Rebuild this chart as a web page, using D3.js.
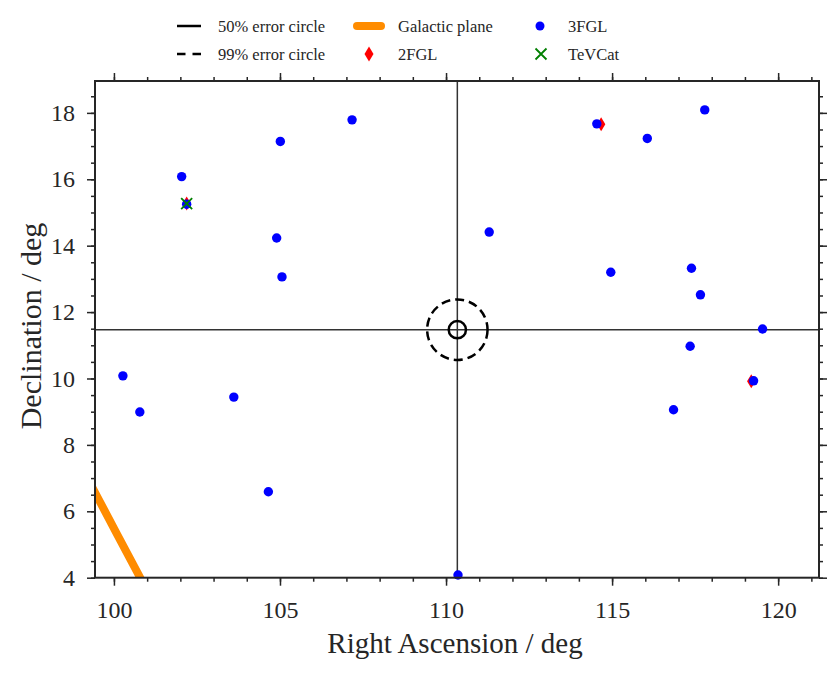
<!DOCTYPE html>
<html>
<head>
<meta charset="utf-8">
<script src="https://cdn.jsdelivr.net/npm/d3@7"></script>
<style>
  html, body { margin: 0; padding: 0; background: #fff; }
  svg { display: block; font-family: "Liberation Serif", "DejaVu Serif", serif; }
</style>
</head>
<body>
<div id="chart"></div>
<script>
// --- data (degrees) ---
const fgl3RA  = [102.04, 102.19, 105.01, 104.90, 105.06, 107.17, 111.30, 114.54, 117.79, 116.06, 114.96,
                 117.39, 117.66, 119.53, 117.35, 119.26, 116.85, 100.27, 100.78, 103.61, 104.65, 110.36];
const fgl3Dec = [16.08, 15.25, 17.14, 14.23, 13.06, 17.79, 14.41, 17.67, 18.09, 17.23, 13.20,
                 13.32, 12.52, 11.49, 10.97, 9.93, 9.06, 10.08, 8.99, 9.44, 6.59, 4.08];

const fgl2RA  = [102.19, 114.67, 119.19];
const fgl2Dec = [15.27, 17.66, 9.92];

const tevRA  = [102.19];
const tevDec = [15.27];

const galRA  = [98.9, 100.1, 101.3];
const galDec = [7.57, 5.30, 3.04];

const srcRA = 110.34;
const srcDec = 11.47;
const errRadii = [0.26, 0.91];       // 50%, 99%

const xTicks = [100, 105, 110, 115, 120];
const yTicks = [4, 6, 8, 10, 12, 14, 16, 18];

// --- layout ---
const width = 831;
const height = 673;
const marginLeft = 95;
const marginRight = 12;
const marginTop = 81;
const marginBottom = 95.3;

const ink = "#262626";

const svg = d3.select("#chart").append("svg")
    .attr("width", width)
    .attr("height", height);

const x = d3.scaleLinear()
    .domain([99.43, 121.23])
    .range([marginLeft, width - marginRight]);

const y = d3.scaleLinear()
    .domain([4.0, 18.96])
    .range([height - marginBottom, marginTop]);

svg.append("clipPath").attr("id", "plot-clip")
    .append("rect")
    .attr("x", x.range()[0])
    .attr("y", y.range()[1])
    .attr("width", x.range()[1] - x.range()[0])
    .attr("height", y.range()[0] - y.range()[1]);

const plot = svg.append("g");
const clipped = plot.append("g").attr("clip-path", "url(#plot-clip)");

// crosshair through the source position
clipped.append("line")
    .attr("x1", x.range()[0]).attr("x2", x.range()[1])
    .attr("y1", y(srcDec)).attr("y2", y(srcDec))
    .attr("stroke", "#333").attr("stroke-width", 1.5);
clipped.append("line")
    .attr("x1", x(srcRA)).attr("x2", x(srcRA))
    .attr("y1", y.range()[0]).attr("y2", y.range()[1])
    .attr("stroke", "#333").attr("stroke-width", 1.5);

// error circles (radius in degrees, equal aspect)
clipped.selectAll("circle.err")
    .data(errRadii)
    .join("circle")
    .attr("class", "err")
    .attr("cx", x(srcRA))
    .attr("cy", y(srcDec))
    .attr("r", d => x(srcRA + d) - x(srcRA))
    .attr("fill", "none")
    .attr("stroke", "#000")
    .attr("stroke-width", 2.5)
    .attr("stroke-dasharray", (d, i) => i === 0 ? null : "9,5");

// galactic plane
clipped.append("path")
    .datum(d3.zip(galRA, galDec))
    .attr("d", d3.line().x(d => x(d[0])).y(d => y(d[1])))
    .attr("fill", "none")
    .attr("stroke", "#ff8c00")
    .attr("stroke-width", 8);

// marker shapes
const diamond = (h) => `M0,${-h}L${h * 0.6},0L0,${h}L${-h * 0.6},0Z`;
const cross = (s) => `M${-s},${-s}L${s},${s}M${-s},${s}L${s},${-s}`;

// 2FGL
plot.append("g").selectAll("path")
    .data(d3.zip(fgl2RA, fgl2Dec))
    .join("path")
    .attr("transform", d => `translate(${x(d[0])},${y(d[1])})`)
    .attr("d", diamond(7))
    .attr("fill", "#ff0000");

// 3FGL
plot.append("g").selectAll("circle")
    .data(d3.zip(fgl3RA, fgl3Dec))
    .join("circle")
    .attr("cx", d => x(d[0]))
    .attr("cy", d => y(d[1]))
    .attr("r", 4.7)
    .attr("fill", "#0000ff");

// TeVCat
plot.append("g").selectAll("path")
    .data(d3.zip(tevRA, tevDec))
    .join("path")
    .attr("transform", d => `translate(${x(d[0])},${y(d[1])})`)
    .attr("d", cross(5.5))
    .attr("fill", "none")
    .attr("stroke", "#007f00")
    .attr("stroke-width", 1.8);

// --- axes: ticks outward on all four sides, labels bottom/left ---
const xMinor = d3.range(100, 122, 1);
const yMinor = d3.range(4, 19, 0.5);

function styleAxis(g) {
    g.select(".domain").remove();
    g.selectAll(".tick line").attr("stroke", ink).attr("stroke-width", 1.5);
    g.selectAll(".tick text")
        .attr("fill", ink)
        .style("font-family", "'Liberation Serif', serif")
        .style("font-size", "24px");
}

const gBottom = svg.append("g").attr("transform", `translate(0,${y.range()[0]})`);
gBottom.call(d3.axisBottom(x).tickValues(xMinor).tickSize(4).tickFormat(""));
gBottom.append("g").call(d3.axisBottom(x).tickValues(xTicks).tickSize(8).tickPadding(15).tickFormat(d3.format("d")));
gBottom.call(styleAxis);
gBottom.selectAll("g").call(styleAxis);

const gTop = svg.append("g").attr("transform", `translate(0,${y.range()[1]})`);
gTop.call(d3.axisTop(x).tickValues(xMinor).tickSize(4).tickFormat(""));
gTop.append("g").call(d3.axisTop(x).tickValues(xTicks).tickSize(8).tickFormat(""));
gTop.call(styleAxis);
gTop.selectAll("g").call(styleAxis);

const gLeft = svg.append("g").attr("transform", `translate(${x.range()[0]},0)`);
gLeft.call(d3.axisLeft(y).tickValues(yMinor).tickSize(4).tickFormat(""));
gLeft.append("g").call(d3.axisLeft(y).tickValues(yTicks).tickSize(8).tickPadding(12).tickFormat(d3.format("d")));
gLeft.call(styleAxis);
gLeft.selectAll("g").call(styleAxis);

const gRight = svg.append("g").attr("transform", `translate(${x.range()[1]},0)`);
gRight.call(d3.axisRight(y).tickValues(yMinor).tickSize(4).tickFormat(""));
gRight.append("g").call(d3.axisRight(y).tickValues(yTicks).tickSize(8).tickFormat(""));
gRight.call(styleAxis);
gRight.selectAll("g").call(styleAxis);

// spines on top
svg.append("rect")
    .attr("x", x.range()[0])
    .attr("y", y.range()[1])
    .attr("width", x.range()[1] - x.range()[0])
    .attr("height", y.range()[0] - y.range()[1])
    .attr("fill", "none")
    .attr("stroke", ink)
    .attr("stroke-width", 2);

// axis labels
svg.append("text")
    .attr("x", (x.range()[0] + x.range()[1]) / 2 - 2)
    .attr("y", 653)
    .attr("text-anchor", "middle")
    .attr("fill", ink)
    .style("font-size", "29px")
    .text("Right Ascension / deg");

svg.append("text")
    .attr("transform", `translate(41,326) rotate(-90)`)
    .attr("text-anchor", "middle")
    .attr("fill", ink)
    .style("font-size", "30px")
    .text("Declination / deg");

// --- legend ---
const legendItems = [
    {label: "50% error circle", kind: "solid", hx: 177, tx: 218, row: 0},
    {label: "99% error circle", kind: "dashed", hx: 177, tx: 218, row: 1},
    {label: "Galactic plane", kind: "band", hx: 355, tx: 398, row: 0},
    {label: "2FGL", kind: "diamond", hx: 355, tx: 398, row: 1},
    {label: "3FGL", kind: "dot", hx: 526, tx: 568, row: 0},
    {label: "TeVCat", kind: "cross", hx: 526, tx: 568, row: 1},
];
const rowY = [26, 54];

const legend = svg.append("g");
const item = legend.selectAll("g")
    .data(legendItems)
    .join("g")
    .attr("transform", d => `translate(${d.hx},${rowY[d.row]})`);

item.filter(d => d.kind === "solid" || d.kind === "dashed")
    .append("line")
    .attr("x1", 0).attr("x2", 24)
    .attr("stroke", "#000").attr("stroke-width", 2.5)
    .attr("stroke-dasharray", d => d.kind === "dashed" ? "8.5,7" : null);

item.filter(d => d.kind === "band")
    .append("line")
    .attr("x1", 2).attr("x2", 26)
    .attr("stroke", "#ff8c00").attr("stroke-width", 8)
    .attr("stroke-linecap", "round");

item.filter(d => d.kind === "diamond")
    .append("path")
    .attr("transform", "translate(14,0)")
    .attr("d", diamond(7.5))
    .attr("fill", "#ff0000");

item.filter(d => d.kind === "dot")
    .append("circle")
    .attr("cx", 14).attr("r", 4.5)
    .attr("fill", "#0000ff");

item.filter(d => d.kind === "cross")
    .append("path")
    .attr("transform", "translate(15,0)")
    .attr("d", cross(5.5))
    .attr("fill", "none")
    .attr("stroke", "#007f00")
    .attr("stroke-width", 1.8);

item.append("text")
    .attr("x", d => d.tx - d.hx)
    .attr("y", 5.5)
    .attr("fill", ink)
    .style("font-size", "16.5px")
    .text(d => d.label);
</script>
</body>
</html>
